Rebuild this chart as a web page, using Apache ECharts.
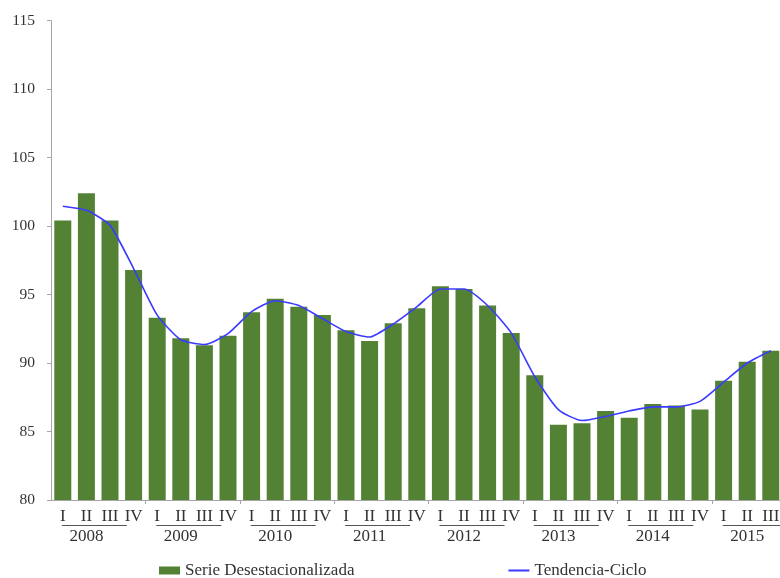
<!DOCTYPE html>
<html>
<head>
<meta charset="utf-8">
<script src="https://cdn.jsdelivr.net/npm/echarts@6/dist/echarts.min.js"></script>
<style>html,body{margin:0;padding:0;background:#fff}#c{width:780px;height:578px}</style>
</head>
<body>
<div id="c"></div>
<script>
var years = ['2008','2009','2010','2011','2012','2013','2014','2015'];
var quarters = ['I','II','III','IV'];
var quartersPerYear = [4,4,4,4,4,4,4,3];
var serieDesestacionalizada = [100.4,102.4,100.4,96.8, 93.3,91.8,91.3,92.0, 93.7,94.7,94.1,93.5, 92.4,91.6,92.9,94.0, 95.6,95.4,94.2,92.2, 89.1,85.5,85.6,86.5, 86.0,87.0,86.9,86.6, 88.7,90.1,90.9];
var tendenciaCiclo = [101.45,101.15,100.05,96.9, 93.5,91.7,91.35,92.15, 93.75,94.55,94.2,93.25, 92.3,91.9,92.85,94.1, 95.4,95.4,94.2,92.2, 89.0,86.6,85.8,86.1, 86.5,86.8,86.8,87.2, 88.6,90.0,90.9];
var yTicks = [80,85,90,95,100,105,110,115];

var categories = [], quarterOf = [], yearOf = [];
years.forEach(function(y, i){
  for (var q = 0; q < quartersPerYear[i]; q++) {
    categories.push(y + '-' + quarters[q]);
    quarterOf.push(quarters[q]);
    yearOf.push(y);
  }
});

var FONT = 'Liberation Serif';
var chart = echarts.init(document.getElementById('c'));
chart.setOption({
  animation: false,
  backgroundColor: '#fff',
  textStyle: {fontFamily: FONT},
  grid: {left: 51, top: 20.6, width: 731.6, bottom: 78, containLabel: false, outerBoundsMode: 'none'},
  legend: {
    left: 159, top: 562, padding: 0, itemGap: 153, itemWidth: 21, itemHeight: 8,
    textStyle: {fontFamily: FONT, fontSize: 17, color: '#333'},
    data: [
      {name: 'Serie Desestacionalizada', icon: 'rect'},
      {name: 'Tendencia-Ciclo', itemStyle: {opacity: 0}}
    ]
  },
  xAxis: [{
    type: 'category', data: categories, position: 'bottom',
    axisLine: {lineStyle: {color: '#a6a6a6', width: 1}},
    axisTick: {show: true, alignWithLabel: false, length: 4, lineStyle: {color: '#a6a6a6'},
      interval: function(i){ return i > 0 && quarterOf[i] === 'I'; }},
    axisLabel: {interval: 0, margin: 8, fontFamily: FONT, fontSize: 17, color: '#333',
      formatter: function(v, i){ return quarterOf[i]; }}
  }, {
    type: 'category', data: categories, position: 'bottom',
    axisLine: {show: false}, axisTick: {show: false},
    axisLabel: {interval: 0, margin: 25, fontFamily: FONT, fontSize: 17, color: '#333',
      formatter: function(v, i){
        if (quarterOf[i] !== 'II') return '';
        return '{sp|}{ln|}\n{yr|' + yearOf[i] + '}';
      },
      rich: {
        sp: {width: 16, height: 1},
        ln: {width: 65, height: 1, backgroundColor: '#555'},
        yr: {fontFamily: FONT, fontSize: 17, color: '#333', lineHeight: 20, padding: [1,0,0,0]}
      }
    }
  }],
  yAxis: {
    type: 'value', min: 80, max: 115, interval: 5,
    axisLine: {show: true, lineStyle: {color: '#a6a6a6'}},
    axisTick: {show: true, length: 4, lineStyle: {color: '#a6a6a6'}},
    splitLine: {show: false},
    axisLabel: {margin: 16, fontFamily: FONT, fontSize: 15.5, color: '#333',
      formatter: function(v){ return yTicks.indexOf(v) >= 0 ? String(v) : ''; }}
  },
  series: [{
    name: 'Serie Desestacionalizada', type: 'bar', data: serieDesestacionalizada,
    barCategoryGap: '28%', itemStyle: {color: '#548235'}
  }, {
    name: 'Tendencia-Ciclo', type: 'line', data: tendenciaCiclo,
    smooth: 0.2, symbol: 'none', z: 5,
    lineStyle: {color: '#3b3bff', width: 1.6}, itemStyle: {color: '#3b3bff'}
  }]
});
</script>
</body>
</html>
